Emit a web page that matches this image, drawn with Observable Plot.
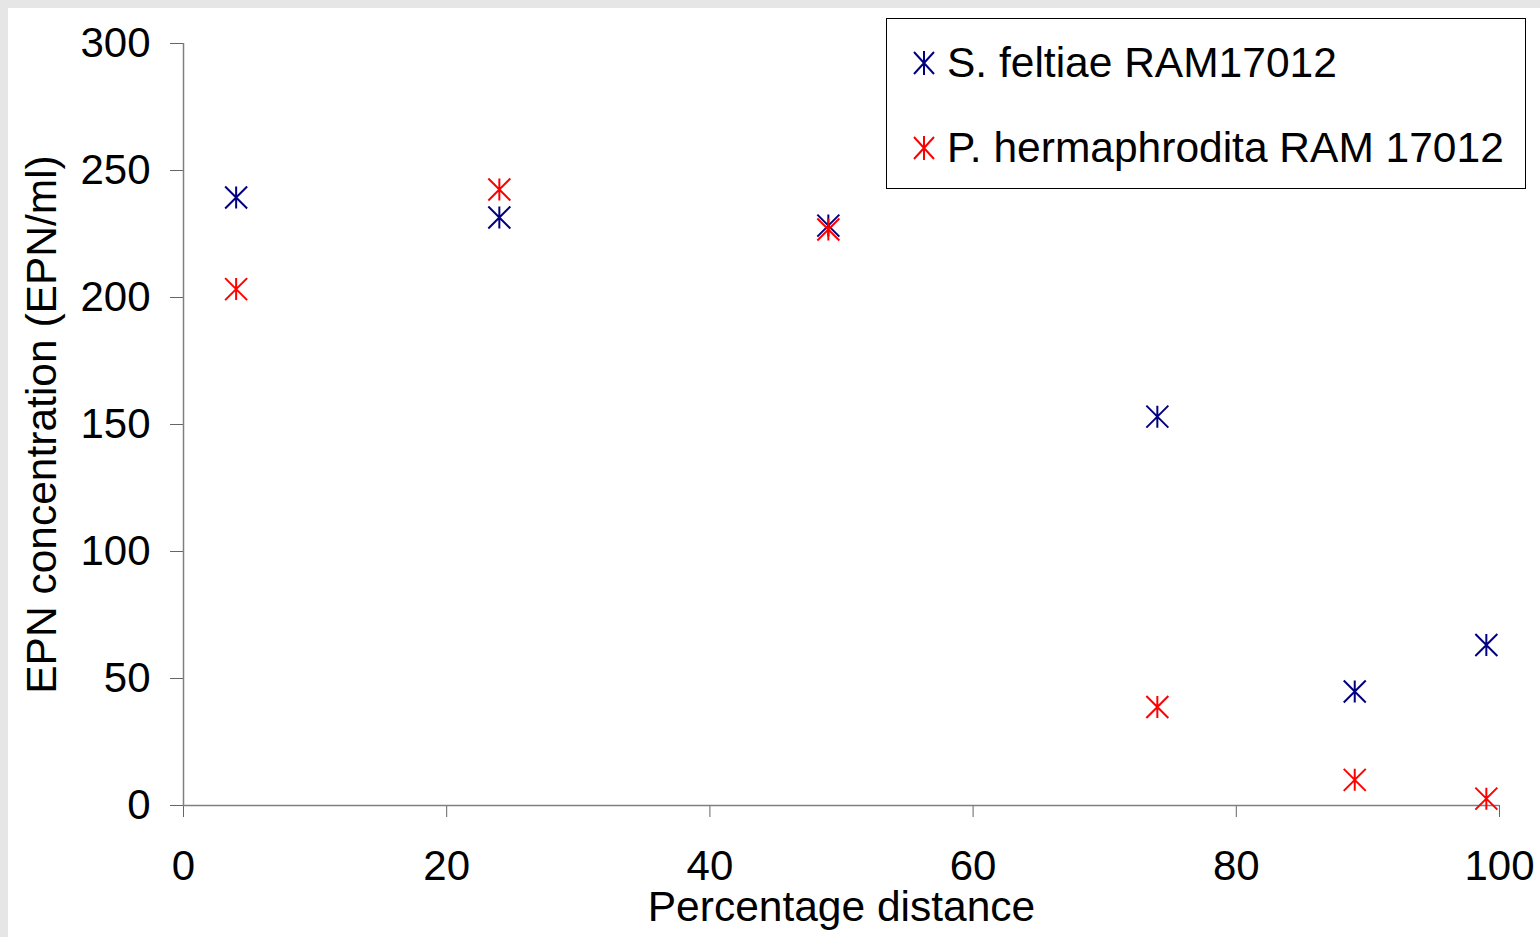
<!DOCTYPE html>
<html>
<head>
<meta charset="utf-8">
<script src="https://cdn.jsdelivr.net/npm/d3@7"></script>
<script src="https://cdn.jsdelivr.net/npm/@observablehq/plot@0.6"></script>
<style>
  html, body { margin: 0; padding: 0; }
  body {
    width: 1540px; height: 937px; overflow: hidden; position: relative;
    background: #e6e6e6;
    font-family: "Liberation Sans", Arial, sans-serif;
  }
  #chart { position: absolute; left: 8px; top: 8px; background: #fff; }
  #legend {
    position: absolute; left: 886px; top: 18px; width: 638px; height: 169px;
    border: 1px solid #000; background: #fff;
  }
  .item { position: absolute; left: 0; height: 50px; }
  .item svg { position: absolute; left: 25px; }
  .item span { position: absolute; left: 60px; font-size: 42.5px; color: #000; white-space: nowrap; line-height: 50px; top: 0; }
</style>
</head>
<body>
<div id="chart"></div>
<div id="legend"></div>
<script>
const distance = [4, 24, 49, 74, 89, 99];
const feltiae = [239.4, 231.5, 228.3, 153.1, 44.9, 63.2];
const hermaphrodita = [203.3, 242.5, 226.8, 38.8, 10.1, 2.7];
const seriesNames = ["S. feltiae RAM17012", "P. hermaphrodita RAM 17012"];
const seriesColors = ["#000080", "#ff0000"];
const xTicks = [0, 20, 40, 60, 80, 100];
const yTicks = [0, 50, 100, 150, 200, 250, 300];

const star = {
  draw(ctx, size) {
    const h = 11;
    ctx.moveTo(-h, -h); ctx.lineTo(h, h);
    ctx.moveTo(h, -h); ctx.lineTo(-h, h);
    ctx.moveTo(0, -h); ctx.lineTo(0, h);
  }
};

const rows = [];
[feltiae, hermaphrodita].forEach((vals, s) => {
  distance.forEach((d, i) => rows.push({series: seriesNames[s], x: d, y: vals[i]}));
});

const font = "Liberation Sans, Arial, sans-serif";
const chart = Plot.plot({
  width: 1532,
  height: 929,
  marginLeft: 175,
  marginRight: 41,
  marginTop: 35,
  marginBottom: 132,
  style: {fontFamily: font, fontSize: "42px", color: "#000", background: "#fff"},
  x: {domain: [0, 100]},
  y: {domain: [0, 300]},
  color: {domain: seriesNames, range: seriesColors},
  marks: [
    Plot.axisY({ticks: yTicks, tickSize: 13, tickPadding: 20, label: null, stroke: "#666", fill: "#000", fontSize: 42}),
    Plot.axisX({ticks: xTicks, tickSize: 12, tickPadding: 33, label: null, stroke: "#666", fill: "#000", fontSize: 42}),
    Plot.ruleX([0], {stroke: "#7f7f7f", strokeWidth: 1.5}),
    Plot.ruleY([0], {stroke: "#7f7f7f", strokeWidth: 1.5}),
    Plot.dot(rows, {x: "x", y: "y", stroke: "series", fill: "none", symbol: star, strokeWidth: 2}),
    Plot.text(["EPN concentration (EPN/ml)"], {frameAnchor: "left", textAnchor: "middle", lineAnchor: "middle", dx: -141, rotate: -90, text: d => d, fontSize: 42.5, fill: "#000"}),
    Plot.text(["Percentage distance"], {frameAnchor: "bottom", textAnchor: "middle", lineAnchor: "middle", dy: 102, text: d => d, fontSize: 42.5, fill: "#000"})
  ]
});
document.getElementById("chart").appendChild(chart);

const legend = document.getElementById("legend");
seriesNames.forEach((name, i) => {
  const item = document.createElement("div");
  item.className = "item";
  item.style.top = (i === 0 ? 19 : 104) + "px";
  item.style.width = "100%";
  const svg = d3.create("svg").attr("width", 24).attr("height", 26).style("top", "12px");
  const p = d3.path();
  p.moveTo(2, 2); p.lineTo(22, 24);
  p.moveTo(22, 2); p.lineTo(2, 24);
  p.moveTo(12, 1); p.lineTo(12, 25);
  svg.append("path").attr("d", p.toString()).attr("stroke", seriesColors[i]).attr("stroke-width", 2).attr("fill", "none");
  item.appendChild(svg.node());
  const span = document.createElement("span");
  span.textContent = name;
  item.appendChild(span);
  legend.appendChild(item);
});
</script>
</body>
</html>
